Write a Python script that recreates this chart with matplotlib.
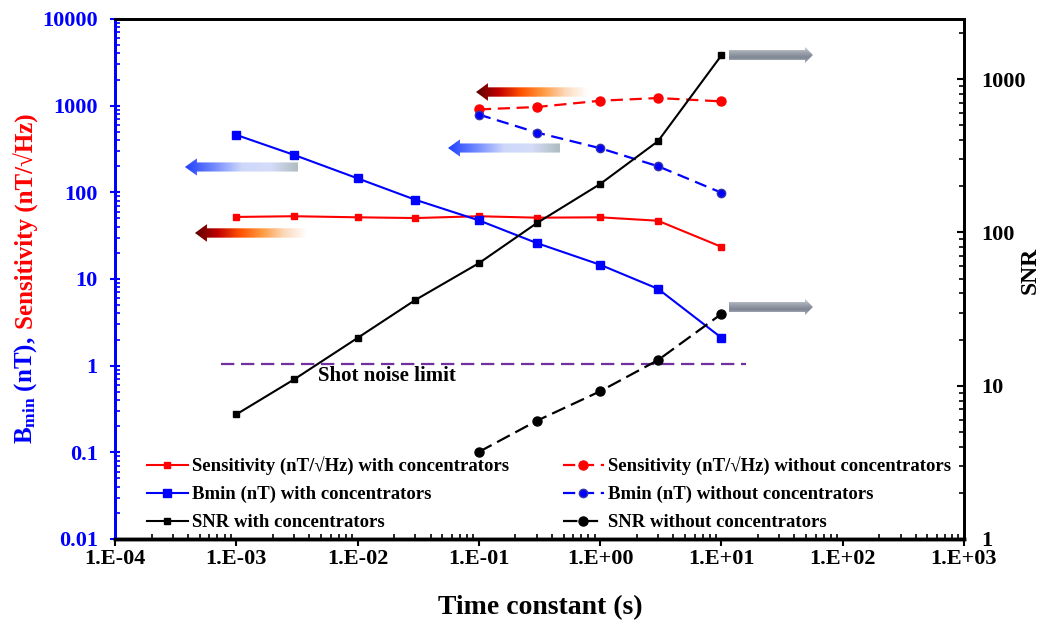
import matplotlib
matplotlib.use("Agg")
import matplotlib.pyplot as plt
import numpy as np
from matplotlib.colors import LinearSegmentedColormap
from matplotlib.patches import Polygon
from matplotlib.ticker import FuncFormatter, LogLocator, NullFormatter

plt.rcParams["font.family"] = ["Liberation Serif", "DejaVu Serif"]
plt.rcParams["font.weight"] = "bold"
plt.rcParams["axes.labelweight"] = "bold"
plt.rcParams["mathtext.fontset"] = "custom"
plt.rcParams["mathtext.bf"] = "Liberation Serif:bold"
plt.rcParams["mathtext.rm"] = "Liberation Serif:bold"

# time constants (s)
tau_with = [1e-3, 3e-3, 1e-2, 3e-2, 1e-1, 3e-1, 1, 3, 10]
tau_without = [1e-1, 3e-1, 1, 3, 10]

# left axis series
sens_with = [52, 53, 51.5, 50.5, 53, 51, 51.5, 47, 23.5]
bmin_with = [460, 270, 145, 82, 47.5, 26, 14.6, 7.7, 2.1]
sens_without = [905, 965, 1140, 1225, 1120]
bmin_without = [790, 490, 323, 200, 99]

# right axis series
snr_with = [6.5, 11.0, 20.5, 36.3, 63, 115, 207, 394, 1430]
snr_without = [3.7, 5.9, 9.2, 14.7, 29.4]

# shot noise limit line
shot_x = [7.5e-4, 16]
shot_y = [1.04, 1.04]

labels = [
    "Sensitivity (nT/\u221aHz) with concentrators",
    "Bmin (nT) with concentrators",
    "SNR with concentrators",
    "Sensitivity (nT/\u221aHz) without concentrators",
    "Bmin (nT) without concentrators",
    "SNR without concentrators",
]

fig = plt.figure(figsize=(10.44, 6.27), dpi=100)
pos = [115 / 1044, 1 - 539 / 627, 849 / 1044, 520 / 627]
ax = fig.add_axes(pos)
ax2 = ax.twinx()

ax.set_xscale("log")
ax.set_yscale("log")
ax2.set_yscale("log")

l1, = ax.plot(tau_with, sens_with, color="#ff0000", lw=1.5, marker="s", ms=5)
l2, = ax.plot(tau_with, bmin_with, color="#0000ff", lw=1.5, marker="s", ms=5.5)
l4, = ax.plot(tau_without, sens_without, color="#ff0000", lw=1.6, marker="o",
              ms=6.5, dashes=(5.5, 3))
l5, = ax.plot(tau_without, bmin_without, color="#0000ff", lw=1.6, marker="o",
              ms=6, mec="#3333aa", dashes=(5.5, 3))
ax.plot(shot_x, shot_y, color="#7030a0", lw=1.6, dashes=(6, 3))
ax.text(4.7e-3, 0.76, "Shot noise limit", fontsize=15, va="center", ha="left")

l3, = ax2.plot(tau_with, snr_with, color="black", lw=1.5, marker="s", ms=4.5)
l6, = ax2.plot(tau_without, snr_without, color="black", lw=1.6, marker="o",
               ms=6.5, dashes=(6.5, 2.8))

ax.set_xlim(1e-4, 1e3)
ax.set_ylim(0.01, 10000)
ax2.set_ylim(1, 2470)

# x axis
ax.xaxis.set_major_locator(LogLocator(base=10, numticks=20))
ax.xaxis.set_minor_locator(LogLocator(base=10, subs=np.arange(2, 10), numticks=20))
ax.xaxis.set_major_formatter(FuncFormatter(lambda v, p: f"1.E{int(round(np.log10(v))):+03d}"))
ax.xaxis.set_minor_formatter(NullFormatter())
ax.tick_params(axis="x", which="major", direction="out", length=5, width=1.5,
               pad=2, labelsize=16, top=False)
ax.tick_params(axis="x", which="minor", direction="in", length=3.5, width=1.2, top=False)

# left axis
ax.yaxis.set_major_locator(LogLocator(base=10, numticks=20))
ax.yaxis.set_minor_locator(LogLocator(base=10, subs=np.arange(2, 10), numticks=20))
ax.yaxis.set_major_formatter(FuncFormatter(lambda v, p: f"{v:g}"))
ax.yaxis.set_minor_formatter(NullFormatter())
ax.tick_params(axis="y", which="major", direction="inout", length=7, width=1.5,
               pad=9, labelsize=16, colors="#0000ff")
ax.tick_params(axis="y", which="minor", direction="in", length=3.5, width=1.2,
               colors="#0000ff")

# right axis
ax2.yaxis.set_major_locator(LogLocator(base=10, numticks=20))
ax2.yaxis.set_minor_locator(LogLocator(base=10, subs=np.arange(2, 10), numticks=20))
ax2.yaxis.set_major_formatter(FuncFormatter(lambda v, p: f"{v:g}"))
ax2.yaxis.set_minor_formatter(NullFormatter())
ax2.tick_params(axis="y", which="major", direction="in", length=5, width=1.5,
                pad=12.5, labelsize=16)
ax2.tick_params(axis="y", which="minor", direction="in", length=3.5, width=1.2)

for a in (ax, ax2):
    a.spines["left"].set_color("#0000ff")
    a.spines["left"].set_linewidth(2)
    a.spines["bottom"].set_linewidth(2.5)
    a.spines["top"].set_linewidth(2)
    a.spines["right"].set_linewidth(2)

ax.set_xlabel("Time constant (s)", fontsize=20, fontweight="bold")
ax.xaxis.set_label_coords(0.5006, -0.131)
ax.xaxis.label.set_va("center")

ax2.set_ylabel("SNR", fontsize=17, fontweight="bold", rotation=90)
ax2.yaxis.set_label_coords(1.078, 0.517)
ax2.yaxis.label.set_va("center")
ax2.yaxis.label.set_ha("center")

# two-colour left label
fig.text(26 / 1044, 1 - 336 / 627, r"$\mathbf{B_{min}}$ (nT),", rotation=90,
         color="#0000ff", fontsize=18, fontweight="bold", ha="center", va="top")
fig.text(26 / 1044, 1 - 329 / 627, "Sensitivity (nT/\u221aHz)", rotation=90,
         color="#ff0000", fontsize=18, fontweight="bold", ha="center", va="bottom")

# legends, one per column
leg_kw = dict(frameon=False, fontsize=13.5, handlelength=2.2, handletextpad=0.2,
              labelspacing=0.57, borderpad=0, borderaxespad=0, loc="center left")
leg1 = ax2.legend([l1, l2, l3], labels[:3], bbox_to_anchor=(0.0373, 0.087), **leg_kw)
ax2.add_artist(leg1)
ax2.legend([l4, l5, l6], labels[3:], bbox_to_anchor=(0.5273, 0.087), **leg_kw)

# gradient arrows on an overlay axes
axo = fig.add_axes(pos, zorder=5)
axo.set_xlim(0, 1)
axo.set_ylim(0, 1)
axo.axis("off")


def grad_arrow(x_tip, x_tail, yc, shaft_h, head_h, head_l, stops, vertical=False):
    d = 1 if x_tail > x_tip else -1
    xb = x_tip + d * head_l
    verts = [(x_tip, yc), (xb, yc + head_h / 2), (xb, yc + shaft_h / 2),
             (x_tail, yc + shaft_h / 2), (x_tail, yc - shaft_h / 2),
             (xb, yc - shaft_h / 2), (xb, yc - head_h / 2)]
    poly = Polygon(verts, closed=True, fc="none", ec="none")
    axo.add_patch(poly)
    cmap = LinearSegmentedColormap.from_list("g", stops)
    if vertical:
        grad = np.linspace(0, 1, 64).reshape(-1, 1)
    else:
        grad = np.linspace(0, 1, 256).reshape(1, -1)
    x0, x1 = min(x_tip, x_tail), max(x_tip, x_tail)
    im = axo.imshow(grad, cmap=cmap, extent=[x0, x1, yc - head_h / 2, yc + head_h / 2],
                    aspect="auto", interpolation="bilinear")
    im.set_clip_path(poly)


blue_stops = ["#2040ff", "#7088ff", "#cdd8fa", "#d4dcf8", "#aebcbf"]
red_stops = ["#5a0000", "#c00000", "#ff5000", "#ff9a40", "#fcd9bb", "#ffffff"]
gray_stops = ["#d6d9de", "#a3a9b3", "#7e8694", "#a9afb9"]

grad_arrow(0.0824, 0.2155, 0.7154, 0.0175, 0.033, 0.0141, blue_stops)
grad_arrow(0.0942, 0.2261, 0.5885, 0.018, 0.034, 0.0141, red_stops)
grad_arrow(0.3922, 0.5241, 0.7519, 0.0175, 0.033, 0.0141, blue_stops)
grad_arrow(0.4252, 0.5571, 0.8596, 0.018, 0.034, 0.0141, red_stops)
grad_arrow(0.8221, 0.7232, 0.9308, 0.019, 0.031, 0.0094, gray_stops, vertical=True)
grad_arrow(0.8221, 0.7232, 0.4462, 0.019, 0.031, 0.0094, gray_stops, vertical=True)

fig.savefig("out.png", dpi=100)
